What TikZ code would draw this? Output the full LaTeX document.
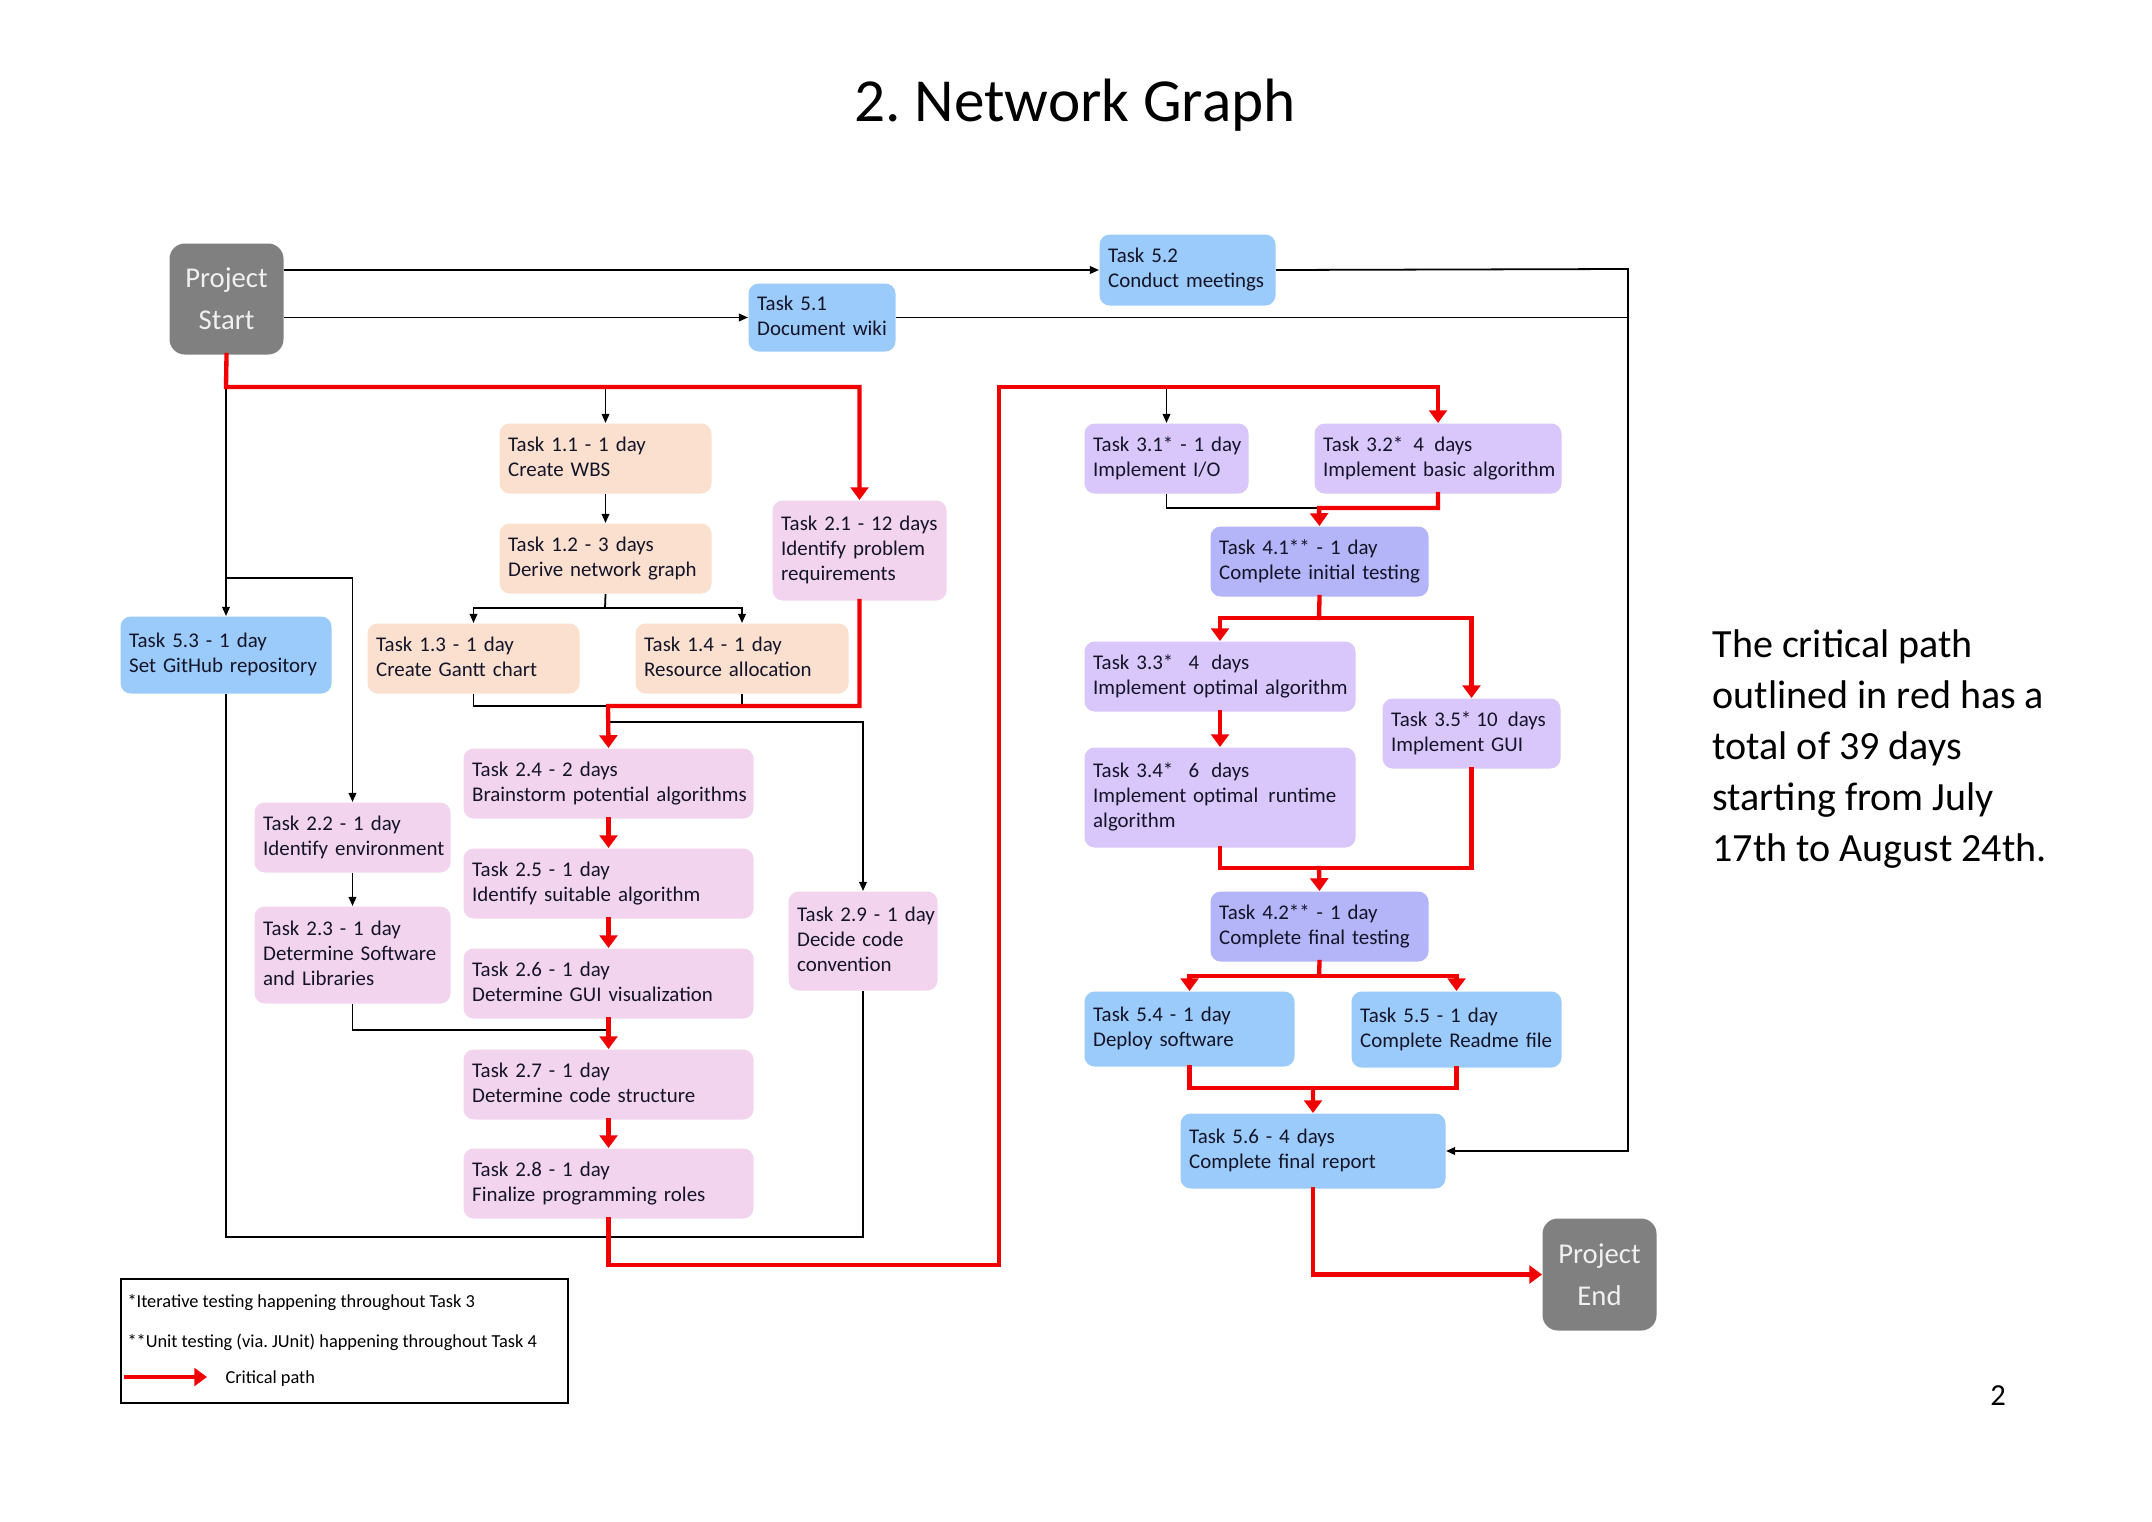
\documentclass[tikz,border=0pt]{standalone}
\usepackage{fontspec}
\setmainfont{Carlito}
\usetikzlibrary{arrows.meta}
\frenchspacing
\newdimen\pxu \pxu=0.3922pt
\definecolor{peach}{RGB}{251,224,208}
\definecolor{pinkb}{RGB}{242,212,238}
\definecolor{lavb}{RGB}{217,199,251}
\definecolor{violb}{RGB}{180,180,249}
\definecolor{blueb}{RGB}{155,203,251}
\definecolor{grayb}{RGB}{128,128,128}
\definecolor{critred}{RGB}{240,0,0}
\definecolor{txt}{RGB}{20,20,40}
\tikzset{
 tk/.style={rounded corners=4pt, inner xsep=3.4pt, inner ysep=0pt, align=left,
   font=\fontsize{8.2}{9.8}\selectfont\frenchspacing, text=txt},
 endbox/.style={fill=grayb, rounded corners=6pt, inner sep=0pt, align=center,
   text=white!94!black, font=\fontsize{11.25}{16.5}\selectfont},
 blk/.style={line width=0.7pt, draw=black},
 blkarr/.style={blk, -{Triangle[length=3.6pt,width=3pt]}},
 crit/.style={line width=1.7pt, draw=critred, line cap=rect},
 critarr/.style={crit, -{Triangle[length=5pt,width=7pt]}},
}
\newcommand\tbox[7]{%
 \pgfmathsetlengthmacro\tbw{(#5-#3)*\pxu}%
 \pgfmathsetlengthmacro\tbh{(#6-#4)*\pxu}%
 \pgfmathsetlengthmacro\tbt{(#5-#3)*\pxu-6.8pt}%
 \node[tk, fill=#2, anchor=north west, minimum width=\tbw, minimum height=\tbh, text width=\tbt] (#1) at (#3,#4)
  {\begin{tabular}{@{}l@{}}#7\end{tabular}};}
\newcommand\ebox[6]{%
 \pgfmathsetlengthmacro\tbw{(#4-#2)*\pxu}%
 \pgfmathsetlengthmacro\tbh{(#5-#3)*\pxu}%
 \node[endbox, anchor=north west, minimum width=\tbw, minimum height=\tbh] (#1) at (#2,#3) {#6};}
\begin{document}
\begin{tikzpicture}[x=0.3922pt, y=-0.3922pt]
\fill[white] (0,0) rectangle (2152,1521);
\useasboundingbox (0,0) rectangle (2152,1521);

\node[anchor=base, font=\fontsize{24}{29}\selectfont] (title) at (1075,122) {2. Network Graph};
\node[anchor=base, font=\fontsize{12}{14}\selectfont] (pg) at (1998,1405) {2};
\node[anchor=north west, align=left, inner sep=0pt, font=\fontsize{15.7}{20}\selectfont] (cp) at (1712,629)
 {The critical path\\outlined in red has a\\total of 39 days\\starting from July\\17th to August 24th.};

% nodes
\ebox{ps}{169}{243}{283}{354}{Project\\Start}
\ebox{pe}{1542}{1218}{1656}{1330}{Project\\End}
\tbox{t51}{blueb}{748}{283}{895}{351}{Task 5.1\\Document wiki}
\tbox{t52}{blueb}{1099}{234}{1275}{305}{Task 5.2\\Conduct meetings}
\tbox{t11}{peach}{499}{423}{711}{493}{Task 1.1 - 1 day\\Create WBS}
\tbox{t12}{peach}{499}{523}{711}{593}{Task 1.2 - 3 days\\Derive network graph}
\tbox{t21}{pinkb}{772}{500}{946}{600}{Task 2.1 - 12 days\\Identify problem\\requirements}
\tbox{t53}{blueb}{120}{616}{331}{693}{Task 5.3 - 1 day\\Set GitHub repository}
\tbox{t13}{peach}{367}{623}{579}{693}{Task 1.3 - 1 day\\Create Gantt chart}
\tbox{t14}{peach}{635}{623}{848}{693}{Task 1.4 - 1 day\\Resource allocation}
\tbox{t24}{pinkb}{463}{748}{753}{818}{Task 2.4 - 2 days\\Brainstorm potential algorithms}
\tbox{t22}{pinkb}{254}{802}{450}{872}{Task 2.2 - 1 day\\Identify environment}
\tbox{t25}{pinkb}{463}{848}{753}{918}{Task 2.5 - 1 day\\Identify suitable algorithm}
\tbox{t23}{pinkb}{254}{906}{450}{1003}{Task 2.3 - 1 day\\Determine Software\\and Libraries}
\tbox{t26}{pinkb}{463}{948}{753}{1018}{Task 2.6 - 1 day\\Determine GUI visualization}
\tbox{t29}{pinkb}{788}{891}{937}{990}{Task 2.9 - 1 day\\Decide code\\convention}
\tbox{t27}{pinkb}{463}{1049}{753}{1119}{Task 2.7 - 1 day\\Determine code structure}
\tbox{t28}{pinkb}{463}{1148}{753}{1218}{Task 2.8 - 1 day\\Finalize programming roles}
\tbox{t31}{lavb}{1084}{423}{1248}{493}{Task 3.1* - 1 day\\Implement I/O}
\tbox{t32}{lavb}{1314}{423}{1561}{493}{Task 3.2*\hspace{4pt}4\hspace{4pt}days\\Implement basic algorithm}
\tbox{t41}{violb}{1210}{526}{1428}{596}{Task 4.1** - 1 day\\Complete initial testing}
\tbox{t33}{lavb}{1084}{641}{1355}{711}{Task 3.3*\hspace{6pt}4\hspace{2pt} days\\Implement optimal algorithm}
\tbox{t35}{lavb}{1382}{698}{1560}{768}{Task 3.5*\hspace{2pt}10\hspace{4pt}days\\Implement GUI}
\tbox{t34}{lavb}{1084}{747}{1355}{847}{Task 3.4*\hspace{6pt}6\hspace{2pt} days\\Implement optimal\hspace{4pt}runtime\\algorithm}
\tbox{t42}{violb}{1210}{891}{1428}{961}{Task 4.2** - 1 day\\Complete final testing}
\tbox{t54}{blueb}{1084}{991}{1294}{1066}{Task 5.4 - 1 day\\Deploy software}
\tbox{t55}{blueb}{1351}{991}{1561}{1067}{Task 5.5 - 1 day\\Complete Readme file}
\tbox{t56}{blueb}{1180}{1113}{1445}{1188}{Task 5.6 - 4 days\\Complete final report}

% junction coordinates
\coordinate (r1) at (226,387);
\coordinate (r2) at (999,1265);
\coordinate (r3) at (999,387);
\coordinate (j12) at (605,608);
\coordinate (j2) at (608,706);
\coordinate (j3) at (608,722);
\coordinate (j4) at (226,578);
\coordinate (j5) at (608,1030);
\coordinate (jb) at (226,1237);
\coordinate (xr) at (1628,269);
\coordinate (j6) at (1319,508);
\coordinate (j7) at (1319,618);
\coordinate (j8) at (1319,868);
\coordinate (j9) at (1319,976);
\coordinate (j10) at (1313,1088);

% black connectors
\draw[blkarr] (ps.east |- t52.west) -- (t52.west);
\draw[blkarr] (ps.east |- t51.west) -- (t51.west);
\draw[blkarr] (t52.east) -- (xr) |- (t56.east);
\draw[blk] (t51.east) -- (t51.east -| xr);
\draw[blkarr] (r1) -- (t53.north);
\draw[blkarr] (t11.north |- r1) -- (t11.north);
\draw[blkarr] (t11.south) -- (t12.north);
\draw[blk] (t12.south) -- (j12);
\draw[blkarr] (j12) -| (t13.north);
\draw[blkarr] (j12) -| (t14.north);
\draw[blk] (t13.south) |- (j2);
\draw[blk] (t14.south) |- (j2);
\draw[blkarr] (j3) -| (t29.north);
\draw[blkarr] (j4) -| (t22.north);
\draw[blkarr] (t22.south) -- (t23.north);
\draw[blk] (t23.south) |- (j5);
\draw[blk] (t53.south) -- (jb) -| (t29.south);
\draw[blkarr] (t31.north |- r3) -- (t31.north);
\draw[blk] (t31.south) |- (j6);

% critical path
\draw[critarr] (ps.south) -- (r1) -| (t21.north);
\draw[critarr] (t21.south) |- (j2) -- (t24.north);
\draw[critarr] (t24.south) -- (t25.north);
\draw[critarr] (t25.south) -- (t26.north);
\draw[critarr] (t26.south) -- (t27.north);
\draw[critarr] (t27.south) -- (t28.north);
\draw[critarr] (t28.south) |- (r2) -- (r3) -| (t32.north);
\draw[critarr] (t32.south) |- (j6) -- (t41.north);
\draw[crit] (t41.south) -- (j7);
\draw[critarr] (j7) -| (t33.north);
\draw[critarr] (j7) -| (t35.north);
\draw[critarr] (t33.south) -- (t34.north);
\draw[crit] (t34.south) |- (j8);
\draw[crit] (t35.south) |- (j8);
\draw[critarr] (j8) -- (t42.north);
\draw[crit] (t42.south) -- (j9);
\draw[critarr] (j9) -| (t54.north);
\draw[critarr] (j9) -| (t55.north);
\draw[crit] (t54.south) |- (j10);
\draw[crit] (t55.south) |- (j10);
\draw[critarr] (j10) -- (t56.north);
\draw[critarr] (t56.south) |- (pe.west);

% legend
\draw[line width=0.5pt] (121,1279) rectangle (568,1403);
\begin{scope}[every node/.style={anchor=base west, inner sep=0pt, font=\fontsize{7.2}{8.6}\selectfont}]
\node (l1) at (127,1307) {*Iterative testing happening throughout Task 3};
\node (l2) at (127,1347) {**Unit testing (via. JUnit) happening throughout Task 4};
\node (l3) at (225,1383) {Critical path};
\end{scope}
\coordinate (la) at (126,1377);
\coordinate (lb) at (207,1377);
\draw[critarr] (la) -- (lb);
\end{tikzpicture}
\end{document}
